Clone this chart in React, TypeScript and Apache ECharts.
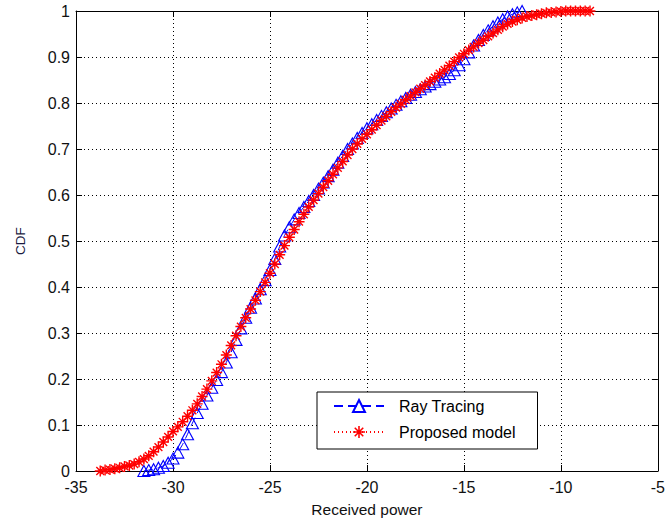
import React, { useEffect, useRef } from "react";
import * as echarts from "echarts";

// Received power (x) values and CDF (y) values
const rayX = [
  -31.5, -31.25, -31.0, -30.75, -30.5, -30.25, -30.0, -29.75, -29.5, -29.25,
  -29.0, -28.75, -28.5, -28.25, -28.0, -27.75, -27.5, -27.25, -27.0, -26.75,
  -26.5, -26.25, -26.0, -25.75, -25.5, -25.25, -25.0, -24.75, -24.5, -24.25,
  -24.0, -23.75, -23.5, -23.25, -23.0, -22.75, -22.5, -22.25, -22.0, -21.75,
  -21.5, -21.25, -21.0, -20.75, -20.5, -20.25, -20.0, -19.75, -19.5, -19.25,
  -19.0, -18.75, -18.5, -18.25, -18.0, -17.75, -17.5, -17.25, -17.0, -16.75,
  -16.5, -16.25, -16.0, -15.75, -15.5, -15.25, -15.0, -14.75, -14.5, -14.25,
  -14.0, -13.75, -13.5, -13.25, -13.0, -12.75, -12.5, -12.25, -12.0,
];
const rayCdf = [
  0.0, 0.002, 0.004, 0.007, 0.011, 0.018, 0.027, 0.04, 0.058, 0.08,
  0.104, 0.126, 0.146, 0.164, 0.181, 0.198, 0.215, 0.236, 0.258, 0.285,
  0.31, 0.333, 0.355, 0.375, 0.395, 0.415, 0.437, 0.461, 0.488, 0.512,
  0.53, 0.547, 0.561, 0.574, 0.587, 0.6, 0.614, 0.627, 0.641, 0.655,
  0.67, 0.685, 0.7, 0.712, 0.724, 0.735, 0.745, 0.754, 0.763, 0.772,
  0.78, 0.788, 0.796, 0.804, 0.811, 0.818, 0.824, 0.83, 0.836, 0.841,
  0.846, 0.851, 0.856, 0.863, 0.871, 0.882, 0.895, 0.91, 0.925, 0.937,
  0.948, 0.958, 0.967, 0.975, 0.982, 0.988, 0.993, 0.997, 1.0,
];

const propX = [
  -33.75, -33.5, -33.25, -33.0, -32.75, -32.5, -32.25, -32.0, -31.75, -31.5,
  -31.25, -31.0, -30.75, -30.5, -30.25, -30.0, -29.75, -29.5, -29.25, -29.0,
  -28.75, -28.5, -28.25, -28.0, -27.75, -27.5, -27.25, -27.0, -26.75, -26.5,
  -26.25, -26.0, -25.75, -25.5, -25.25, -25.0, -24.75, -24.5, -24.25, -24.0,
  -23.75, -23.5, -23.25, -23.0, -22.75, -22.5, -22.25, -22.0, -21.75, -21.5,
  -21.25, -21.0, -20.75, -20.5, -20.25, -20.0, -19.75, -19.5, -19.25, -19.0,
  -18.75, -18.5, -18.25, -18.0, -17.75, -17.5, -17.25, -17.0, -16.75, -16.5,
  -16.25, -16.0, -15.75, -15.5, -15.25, -15.0, -14.75, -14.5, -14.25, -14.0,
  -13.75, -13.5, -13.25, -13.0, -12.75, -12.5, -12.25, -12.0, -11.75, -11.5,
  -11.25, -11.0, -10.75, -10.5, -10.25, -10.0, -9.75, -9.5, -9.25, -9.0,
  -8.75, -8.5,
];
const propCdf = [
  0.0, 0.002, 0.003, 0.005, 0.007, 0.01, 0.012, 0.015, 0.02, 0.026,
  0.033, 0.042, 0.052, 0.063, 0.074, 0.086, 0.096, 0.107, 0.119, 0.132,
  0.146, 0.162, 0.178, 0.196, 0.214, 0.232, 0.252, 0.273, 0.294, 0.314,
  0.333, 0.352, 0.371, 0.39, 0.41, 0.43, 0.45, 0.47, 0.49, 0.508,
  0.525, 0.542, 0.558, 0.574, 0.589, 0.603, 0.617, 0.631, 0.645, 0.659,
  0.673, 0.687, 0.7, 0.711, 0.722, 0.732, 0.742, 0.752, 0.762, 0.771,
  0.781, 0.79, 0.798, 0.807, 0.815, 0.823, 0.831, 0.839, 0.847, 0.855,
  0.864, 0.872, 0.881, 0.89, 0.899, 0.907, 0.915, 0.922, 0.93, 0.937,
  0.945, 0.952, 0.959, 0.966, 0.972, 0.977, 0.981, 0.985, 0.988, 0.99,
  0.992, 0.994, 0.996, 0.997, 0.998, 0.999, 1.0, 1.0, 1.0, 1.0,
  1.0, 1.0,
];

const seriesNames = ["Ray Tracing", "Proposed model"];
const xName = "Received power";
const yName = "CDF";

const STAR =
  "path://M8.7,0H11.3V20H8.7Z M0,8.7H20V11.3H0Z M2,3.8L3.8,2L18,16.2L16.2,18Z M16.2,2L18,3.8L3.8,18L2,16.2Z";

const FONT = "Liberation Sans, Arial, sans-serif";

export default function App() {
  const ref = useRef<HTMLDivElement>(null);
  useEffect(() => {
    if (!ref.current) return;
    const chart = echarts.init(ref.current, null, { renderer: "svg" });
    const rayData = rayX.map((x, i) => [x, rayCdf[i]]);
    const propData = propX.map((x, i) => [x, propCdf[i]]);
    const axisLine = { show: true, onZero: false, lineStyle: { color: "#000", width: 1 } };
    const tick = { show: true, inside: true, length: 6, lineStyle: { color: "#000", width: 1 } };
    const grid = { show: true, lineStyle: { color: "#000", type: [1, 3], width: 1 } };
    chart.setOption({
      animation: false,
      backgroundColor: "#fff",
      color: ["#0000ff", "#ff0000"],
      grid: { left: 76, top: 11, right: 3, bottom: 50 },
      xAxis: [
        {
          type: "value",
          min: -35,
          max: -5,
          interval: 5,
          position: "bottom",
          axisLine,
          axisTick: tick,
          splitLine: grid,
          axisLabel: { color: "#111", fontSize: 16, fontFamily: FONT, margin: 8 },
          name: xName,
          nameLocation: "middle",
          nameGap: 30,
          nameTextStyle: { color: "#111", fontSize: 15.5, fontFamily: FONT },
        },
        {
          type: "value",
          min: -35,
          max: -5,
          interval: 5,
          position: "top",
          axisLine,
          axisTick: tick,
          splitLine: { show: false },
          axisLabel: { show: false },
        },
      ],
      yAxis: [
        {
          type: "value",
          min: 0,
          max: 1,
          interval: 0.1,
          position: "left",
          axisLine,
          axisTick: tick,
          splitLine: grid,
          axisLabel: {
            color: "#111",
            fontSize: 16,
            fontFamily: FONT,
            margin: 6,
            formatter: (v: number) => (v === 0 ? "0" : v === 1 ? "1" : v.toFixed(1)),
          },
          name: yName,
          nameLocation: "middle",
          nameGap: 49,
          nameTextStyle: { color: "#1a1a40", fontSize: 13.5, fontFamily: FONT },
        },
        {
          type: "value",
          min: 0,
          max: 1,
          interval: 0.1,
          position: "right",
          axisLine,
          axisTick: tick,
          splitLine: { show: false },
          axisLabel: { show: false },
        },
      ],
      legend: {
        orient: "vertical",
        left: 317,
        top: 392,
        padding: [6, 22, 9, 16],
        itemGap: 10,
        itemWidth: 50,
        itemHeight: 15,
        borderColor: "#000",
        borderWidth: 1,
        backgroundColor: "#fff",
        textStyle: { color: "#000", fontSize: 16, fontFamily: FONT, padding: [0, 0, 0, 10] },
        data: seriesNames,
      },
      series: [
        {
          name: seriesNames[0],
          type: "line",
          data: rayData,
          symbol: "triangle",
          symbolSize: [12, 11],
          itemStyle: { color: "transparent", borderColor: "#0000ff", borderWidth: 1.1 },
          lineStyle: { color: "#0000ff", width: 1, type: [9, 5] },
          emphasis: { disabled: true },
        },
        {
          name: seriesNames[1],
          type: "line",
          data: propData,
          symbol: STAR,
          symbolSize: 11,
          itemStyle: { color: "#ff0000" },
          lineStyle: { color: "#ff0000", width: 1, type: [1, 3] },
          emphasis: { disabled: true },
        },
      ],
    });
    return () => chart.dispose();
  }, []);
  return (
    <div
      ref={ref}
      style={{ position: "fixed", left: 0, top: 0, width: 668, height: 522, background: "#fff" }}
    />
  );
}
